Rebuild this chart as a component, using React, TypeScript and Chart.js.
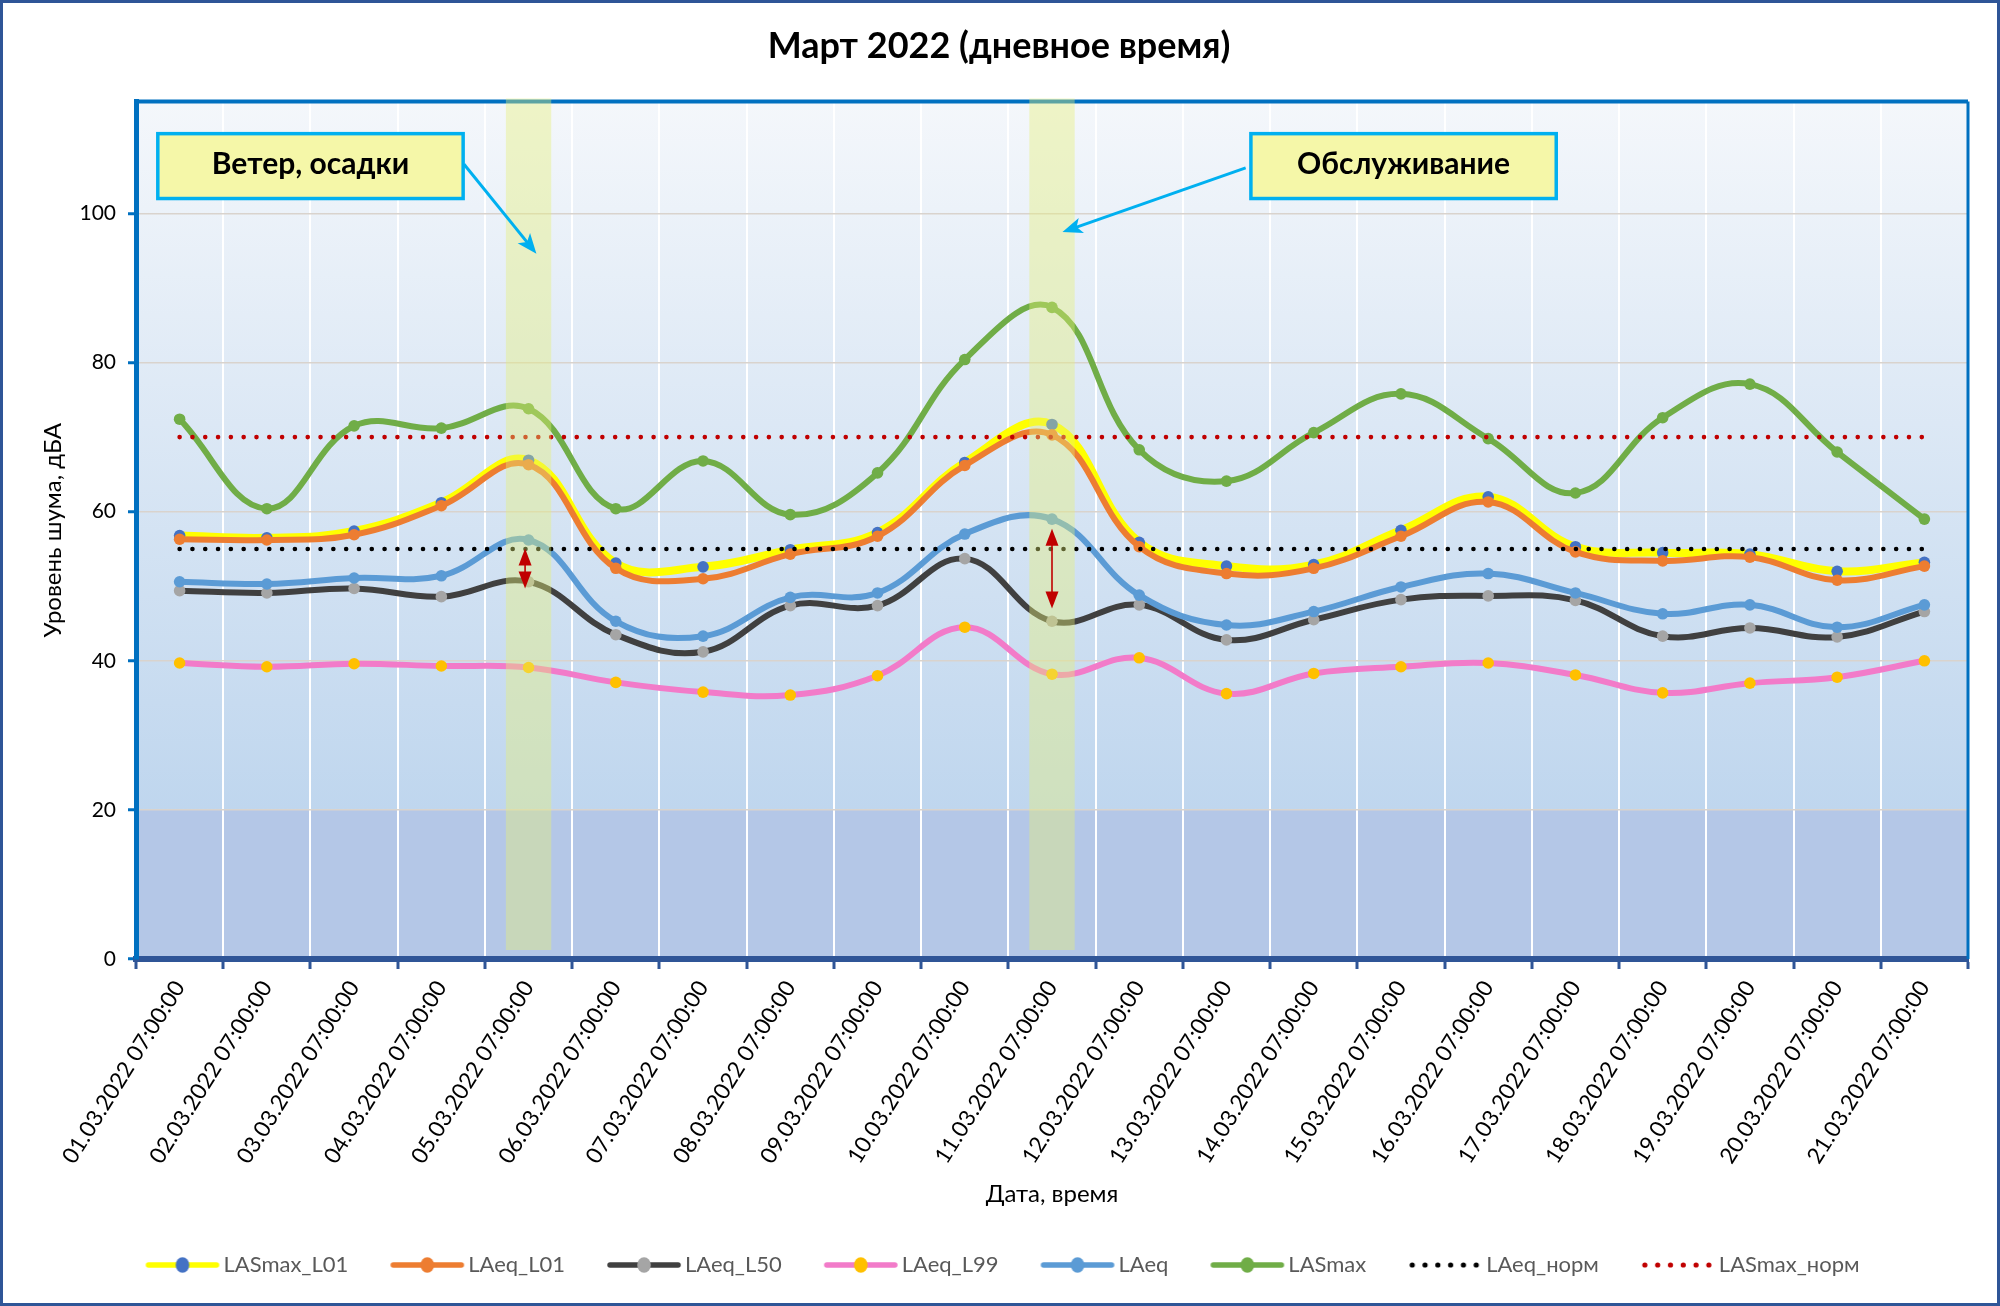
import { useEffect, useRef } from 'react'
import { Chart, ChartConfiguration, registerables } from 'chart.js'

Chart.register(...registerables)

// categories
const dates = [
  '01.03.2022 07:00:00', '02.03.2022 07:00:00', '03.03.2022 07:00:00', '04.03.2022 07:00:00',
  '05.03.2022 07:00:00', '06.03.2022 07:00:00', '07.03.2022 07:00:00', '08.03.2022 07:00:00',
  '09.03.2022 07:00:00', '10.03.2022 07:00:00', '11.03.2022 07:00:00', '12.03.2022 07:00:00',
  '13.03.2022 07:00:00', '14.03.2022 07:00:00', '15.03.2022 07:00:00', '16.03.2022 07:00:00',
  '17.03.2022 07:00:00', '18.03.2022 07:00:00', '19.03.2022 07:00:00', '20.03.2022 07:00:00',
  '21.03.2022 07:00:00',
]

// series values, dBA
const lasmaxL01 = [56.8, 56.5, 57.4, 61.2, 66.9, 53.1, 52.6, 54.9, 57.2, 66.6, 71.7, 55.9, 52.7, 52.9, 57.5, 62.0, 55.3, 54.5, 54.3, 52.0, 53.2]
const laeqL01 = [56.3, 56.2, 56.9, 60.8, 66.3, 52.4, 51.0, 54.3, 56.7, 66.2, 70.3, 55.3, 51.7, 52.4, 56.7, 61.3, 54.6, 53.4, 53.9, 50.8, 52.7]
const laeqL50 = [49.4, 49.1, 49.7, 48.6, 50.6, 43.5, 41.2, 47.4, 47.4, 53.7, 45.3, 47.5, 42.8, 45.5, 48.2, 48.7, 48.1, 43.3, 44.4, 43.2, 46.6]
const laeqL99 = [39.7, 39.2, 39.6, 39.3, 39.1, 37.1, 35.8, 35.4, 38.0, 44.5, 38.2, 40.4, 35.6, 38.3, 39.2, 39.7, 38.1, 35.7, 37.0, 37.8, 40.0]
const laeq = [50.6, 50.3, 51.1, 51.4, 56.2, 45.3, 43.3, 48.5, 49.1, 57.0, 59.0, 48.8, 44.8, 46.6, 49.9, 51.7, 49.1, 46.3, 47.5, 44.5, 47.5]
const lasmax = [72.4, 60.4, 71.5, 71.2, 73.8, 60.4, 66.8, 59.6, 65.2, 80.4, 87.4, 68.3, 64.1, 70.6, 75.8, 69.8, 62.5, 72.6, 77.1, 68.0, 59.0]
const laeqNorm = [55, 55, 55, 55, 55, 55, 55, 55, 55, 55, 55, 55, 55, 55, 55, 55, 55, 55, 55, 55, 55]
const lasmaxNorm = [70, 70, 70, 70, 70, 70, 70, 70, 70, 70, 70, 70, 70, 70, 70, 70, 70, 70, 70, 70, 70]

// highlighted days (floating columns)
const bandValues: ([number, number] | null)[] = [
  null, null, null, null, [1.2, 115.4], null, null, null, null, null, [1.2, 115.4],
  null, null, null, null, null, null, null, null, null, null,
]

const yTicks = [0, 20, 40, 60, 80, 100]

const series = [
  { label: 'LASmax_L01', data: lasmaxL01, line: '#ffff00', point: '#4472c4', width: 8, dotted: false },
  { label: 'LAeq_L01', data: laeqL01, line: '#ed7d31', point: '#ed7d31', width: 6, dotted: false },
  { label: 'LAeq_L50', data: laeqL50, line: '#404040', point: '#a5a5a5', width: 6, dotted: false },
  { label: 'LAeq_L99', data: laeqL99, line: '#f27bc9', point: '#ffc000', width: 6, dotted: false },
  { label: 'LAeq', data: laeq, line: '#5b9bd5', point: '#5b9bd5', width: 6, dotted: false },
  { label: 'LASmax', data: lasmax, line: '#70ad47', point: '#70ad47', width: 6, dotted: false },
  { label: 'LAeq_норм', data: laeqNorm, line: '#000000', point: '#000000', width: 4.6, dotted: true },
  { label: 'LASmax_норм', data: lasmaxNorm, line: '#c00000', point: '#c00000', width: 4.6, dotted: true },
]

// annotations in data coordinates (x = category index, y = dBA)
const callouts = [
  { text: 'Ветер, осадки', x0: -0.25, x1: 3.25, y0: 110.7, y1: 102.0, from: [3.26, 106.6], to: [4.09, 94.6] },
  { text: 'Обслуживание', x0: 12.28, x1: 15.78, y0: 110.7, y1: 102.0, from: [12.22, 106.1], to: [10.12, 97.5] },
]
const rangeArrows = [
  { x: 3.96, top: 55.05, bottom: 49.7 },
  { x: 10.0, top: 57.7, bottom: 47.0 },
]

function legendIcon(line: string, point: string, dotted: boolean) {
  const c = document.createElement('canvas')
  c.width = 76
  c.height = 18
  const g = c.getContext('2d')!
  if (dotted) {
    g.fillStyle = line
    for (let i = 0; i < 6; i++) {
      g.beginPath()
      g.arc(5 + i * 12.8, 9, 2.6, 0, Math.PI * 2)
      g.fill()
    }
  } else {
    g.strokeStyle = line
    g.lineWidth = 5.5
    g.lineCap = 'round'
    g.beginPath()
    g.moveTo(4, 9)
    g.lineTo(72, 9)
    g.stroke()
    g.fillStyle = point
    g.beginPath()
    g.ellipse(38, 9, 6.8, 7.8, 0, 0, Math.PI * 2)
    g.fill()
  }
  return c
}

function arrowHead(ctx: CanvasRenderingContext2D, x1: number, y1: number, x2: number, y2: number, len: number, half: number) {
  const a = Math.atan2(y2 - y1, x2 - x1)
  const cos = Math.cos(a)
  const sin = Math.sin(a)
  const bx = x2 - len * cos
  const by = y2 - len * sin
  ctx.beginPath()
  ctx.moveTo(x2, y2)
  ctx.lineTo(bx - half * sin, by + half * cos)
  ctx.lineTo(x2 - len * 0.75 * cos, y2 - len * 0.75 * sin)
  ctx.lineTo(bx + half * sin, by - half * cos)
  ctx.closePath()
  ctx.fill()
}

const decorPlugin = {
  id: 'decor',
  afterLayout(chart: Chart) {
    // nudge title and legend to sit where the original has them
    const c = chart as any
    if (c.titleBlock) {
      c.titleBlock.left += 15
      c.titleBlock.right += 15
    }
    if (c.legend) {
      c.legend.left += 22
      c.legend.right += 22
    }
  },
  beforeDraw(chart: Chart) {
    const { ctx, chartArea: a, scales } = chart
    const y20 = scales.y.getPixelForValue(20)
    ctx.save()
    ctx.fillStyle = '#ffffff'
    ctx.fillRect(0, 0, chart.width, chart.height)
    const grad = ctx.createLinearGradient(0, a.top, 0, y20)
    grad.addColorStop(0, '#f4f7fb')
    grad.addColorStop(1, '#bfd6ee')
    ctx.fillStyle = grad
    ctx.fillRect(a.left, a.top, a.right - a.left, y20 - a.top)
    ctx.fillStyle = '#b4c7e7'
    ctx.fillRect(a.left, y20, a.right - a.left, a.bottom - y20)
    ctx.restore()
  },
  beforeDatasetsDraw(chart: Chart) {
    const { ctx, chartArea: a } = chart
    ctx.save()
    ctx.strokeStyle = '#0070c0'
    ctx.lineWidth = 4
    ctx.beginPath()
    ctx.moveTo(a.left, a.top)
    ctx.lineTo(a.right, a.top)
    ctx.stroke()
    ctx.lineWidth = 3
    ctx.beginPath()
    ctx.moveTo(a.right, a.top)
    ctx.lineTo(a.right, a.bottom)
    ctx.stroke()
    ctx.restore()
  },
  afterDatasetsDraw(chart: Chart) {
    const { ctx, scales } = chart
    const px = (v: number) => scales.x.getPixelForValue(v)
    const py = (v: number) => scales.y.getPixelForValue(v)
    ctx.save()
    // red double arrows
    ctx.fillStyle = '#c00000'
    ctx.strokeStyle = '#c00000'
    rangeArrows.forEach(r => {
      const x = px(r.x)
      const t = py(r.top)
      const b = py(r.bottom)
      ctx.lineWidth = 1.6
      ctx.beginPath()
      ctx.moveTo(x, t + 8)
      ctx.lineTo(x, b - 8)
      ctx.stroke()
      for (const [tip, dir] of [[t, 1], [b, -1]] as [number, number][]) {
        ctx.beginPath()
        ctx.moveTo(x, tip)
        ctx.lineTo(x - 6.5, tip + dir * 17)
        ctx.lineTo(x + 6.5, tip + dir * 17)
        ctx.closePath()
        ctx.fill()
      }
    })
    // callouts
    callouts.forEach(c => {
      const l = px(c.x0)
      const r = px(c.x1)
      const t = py(c.y0)
      const b = py(c.y1)
      ctx.fillStyle = '#f5f7a8'
      ctx.fillRect(l, t, r - l, b - t)
      ctx.strokeStyle = '#00b0f0'
      ctx.lineWidth = 3.5
      ctx.strokeRect(l, t, r - l, b - t)
      ctx.fillStyle = '#000000'
      ctx.font = 'bold 30px Lato'
      ctx.textAlign = 'center'
      ctx.textBaseline = 'middle'
      ctx.fillText(c.text, (l + r) / 2, (t + b) / 2 - 2)
      const x1 = px(c.from[0])
      const y1 = py(c.from[1])
      const x2 = px(c.to[0])
      const y2 = py(c.to[1])
      ctx.strokeStyle = '#00b0f0'
      ctx.fillStyle = '#00b0f0'
      ctx.lineWidth = 3
      const a = Math.atan2(y2 - y1, x2 - x1)
      ctx.beginPath()
      ctx.moveTo(x1, y1)
      ctx.lineTo(x2 - 12 * Math.cos(a), y2 - 12 * Math.sin(a))
      ctx.stroke()
      arrowHead(ctx, x1, y1, x2, y2, 20, 8)
    })
    ctx.restore()
  },
  afterDraw(chart: Chart) {
    const { ctx } = chart
    ctx.save()
    ctx.strokeStyle = '#2f5597'
    ctx.lineWidth = 3
    ctx.strokeRect(1.5, 1.5, chart.width - 3, chart.height - 3)
    ctx.restore()
  },
}

export default function App() {
  const canvasRef = useRef<HTMLCanvasElement>(null)
  const chartRef = useRef<Chart | null>(null)

  useEffect(() => {
    if (!canvasRef.current) return
    if (chartRef.current) chartRef.current.destroy()
    const ctx = canvasRef.current.getContext('2d')
    if (!ctx) return

    Chart.defaults.font.family = 'Lato, "Open Sans", sans-serif'

    const icons = series.map(s => legendIcon(s.line, s.point, s.dotted))

    const lineSets = series.map((s, i) => ({
      type: 'line' as const,
      label: s.label,
      data: s.data,
      order: series.length - i,
      borderColor: s.line,
      backgroundColor: s.point,
      borderWidth: s.width,
      borderDash: s.dotted ? [0.01, 12.8] : [],
      borderCapStyle: (s.dotted ? 'round' : 'butt') as CanvasLineCap,
      tension: s.dotted ? 0 : 0.4,
      pointRadius: s.dotted ? 0 : 5.8,
      pointHoverRadius: s.dotted ? 0 : 6,
      pointBackgroundColor: s.point,
      pointBorderColor: s.point,
      pointBorderWidth: 0,
      fill: false,
    }))

    const config: ChartConfiguration = {
      type: 'line',
      data: {
        labels: dates,
        datasets: [
          ...lineSets,
          {
            type: 'bar' as const,
            label: 'band',
            data: bandValues as any,
            order: 0,
            backgroundColor: 'rgba(230, 240, 120, 0.4)',
            borderWidth: 0,
            barPercentage: 0.52,
            categoryPercentage: 1,
            clip: false as any,
          },
        ] as any,
      },
      options: {
        responsive: false,
        animation: false,
        devicePixelRatio: 1,
        layout: { padding: { left: 0, right: 32, top: 0, bottom: 20 } },
        plugins: {
          title: {
            display: true,
            text: 'Март 2022 (дневное время)',
            color: '#000000',
            font: { size: 36, weight: 'bold' },
            padding: { top: 24.4, bottom: 34 },
          },
          legend: {
            position: 'bottom',
            reverse: true,
            labels: {
              usePointStyle: true,
              pointStyleWidth: 60,
              padding: 49,
              color: '#595959',
              font: { size: 22 },
              filter: item => item.datasetIndex !== undefined && item.datasetIndex < series.length,
              generateLabels: chart => {
                const items = Chart.defaults.plugins.legend.labels.generateLabels(chart)
                return items.map(it => ({ ...it, pointStyle: icons[it.datasetIndex ?? 0] ?? it.pointStyle }))
              },
            },
          },
          tooltip: { enabled: false },
        },
        scales: {
          x: {
            type: 'category',
            offset: true,
            afterFit: scale => { scale.height = 246 },
            grid: {
              offset: true,
              color: '#ffffff',
              lineWidth: 2,
              tickColor: '#2f5597',
              tickLength: 10,
              tickWidth: 3,
            },
            border: { color: '#2f5597', width: 6 },
            ticks: {
              autoSkip: false,
              minRotation: 58,
              maxRotation: 58,
              padding: 7,
              color: '#000000',
              font: { size: 22.5 },
            },
            title: {
              display: true,
              text: 'Дата, время',
              color: '#000000',
              font: { size: 24 },
              padding: { top: 0, bottom: -3.5 },
            },
          },
          y: {
            min: 0,
            max: 115,
            afterFit: scale => { scale.width = 136 },
            afterBuildTicks: scale => { scale.ticks = yTicks.map(v => ({ value: v })) },
            grid: {
              color: '#d9d3cd',
              lineWidth: 1.5,
              tickColor: '#0070c0',
              tickLength: 8,
              tickWidth: 3,
            },
            border: { color: '#0070c0', width: 5 },
            ticks: {
              padding: 12,
              color: '#000000',
              font: { size: 21 },
            },
            title: {
              display: true,
              text: 'Уровень шума, дБА',
              color: '#000000',
              font: { size: 24 },
              padding: { top: 39, bottom: 0 },
            },
          },
        },
      },
      plugins: [decorPlugin],
    }

    chartRef.current = new Chart(ctx, config)

    return () => {
      if (chartRef.current) {
        chartRef.current.destroy()
        chartRef.current = null
      }
    }
  }, [])

  return (
    <div style={{ position: 'fixed', left: 0, top: 0, width: 2000, height: 1306, background: '#ffffff' }}>
      <canvas ref={canvasRef} width={2000} height={1306} style={{ width: 2000, height: 1306 }} />
    </div>
  )
}
